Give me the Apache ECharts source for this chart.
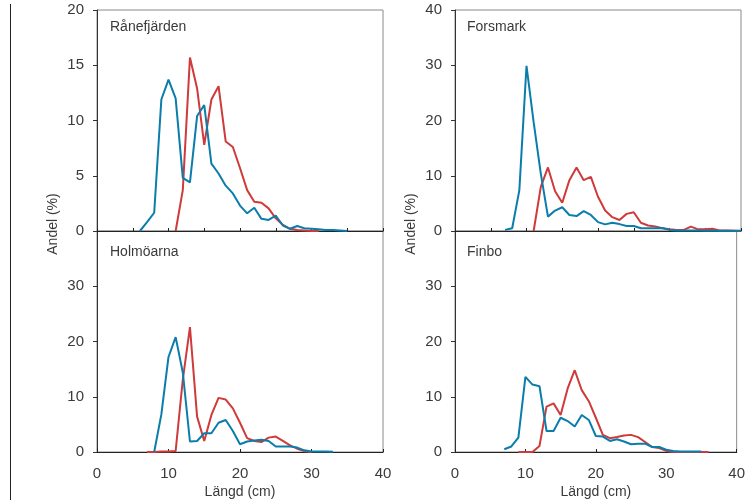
<!DOCTYPE html>
<html>
<head>
<meta charset="utf-8">
<script src="https://cdn.jsdelivr.net/npm/echarts@6/dist/echarts.min.js"></script>
<style>html,body{margin:0;padding:0;background:#fff}#c{width:748px;height:500px}</style>
</head>
<body>
<div id="c"></div>
<script>
// Length classes (cm)
const lengths = [0,1,2,3,4,5,6,7,8,9,10,11,12,13,14,15,16,17,18,19,20,21,22,23,24,25,26,27,28,29,30,31,32,33,34,35,36,37,38,39,40];
const panelNames = ['Rånefjärden', 'Forsmark', 'Holmöarna', 'Finbo'];
const xLabel = 'Längd (cm)';
const yLabel = 'Andel (%)';
const yMax = [20, 40, 40, 40];
const yStep = [5, 10, 10, 10];

// Values per length class, null where no data (index = length in cm)
const raneBlue = [null,null,null,null,null,null,0,0.8,1.65,11.9,13.7,12.0,4.8,4.4,10.4,11.4,6.1,5.2,4.1,3.4,2.3,1.6,2.1,1.1,1.0,1.4,0.5,0.2,0.45,0.25,0.2,0.15,0.1,0.1,0.05,0,null,null,null,null,null];
const raneRed  = [null,null,null,null,null,null,null,null,null,null,null,0,3.7,15.7,12.9,7.8,11.9,13.1,8.1,7.6,5.7,3.7,2.65,2.55,2.05,1.15,0.55,0.2,0.1,0.05,0,0,null,null,null,null,null,null,null,null,null];
const forsBlue = [null,null,null,null,null,null,null,0.2,0.5,7.4,29.9,19.7,10.4,2.6,3.7,4.3,2.9,2.7,3.6,2.9,1.6,1.2,1.5,1.25,0.9,0.9,0.5,0.5,0.5,0.55,0.2,0.1,0.1,0.1,0.1,0.05,0.05,0.05,0.05,0.05,0.05];
const forsRed  = [null,null,null,null,null,null,null,null,null,null,null,0,8.0,11.5,7.2,5.1,9.2,11.5,9.2,9.8,6.2,3.7,2.5,2.0,3.1,3.4,1.5,1.0,0.8,0.5,0.3,0.2,0.2,0.8,0.3,0.3,0.4,0.1,0.1,0.05,0];
const holmBlue = [null,null,null,null,null,null,null,null,0,6.8,17.2,20.8,14.4,1.9,2.0,3.4,3.4,5.3,5.8,3.8,1.4,1.9,2.1,2.2,2.0,1.0,1.0,1.0,0.8,0.3,0.1,0.1,0.1,0.05,null,null,null,null,null,null,null];
const holmRed  = [null,null,null,null,null,null,null,0,0,0.1,0.1,0.2,13.1,22.6,6.4,2.0,6.7,9.8,9.5,7.9,5.3,2.5,2.0,1.8,2.6,2.8,2.0,1.2,0.6,0.15,0,null,null,null,null,null,null,null,null,null,null];
const finbBlue = [null,null,null,null,null,null,null,0.5,1.0,2.6,13.6,12.2,11.9,3.8,3.8,6.2,5.6,4.6,6.7,5.8,2.9,2.8,2.0,2.3,1.9,1.4,1.5,1.5,0.9,0.9,0.4,0.2,0.1,0.1,0.1,0.1,null,null,null,null,null];
const finbRed  = [null,null,null,null,null,null,null,null,null,0,0,0,1.1,8.2,8.8,6.7,11.5,14.8,11.2,9.2,6.2,3.1,2.5,2.7,3.0,3.1,2.7,1.8,0.9,0.7,0.2,0,0,0,0,0,0,null,null,null,null];

const blueSeries = [raneBlue, forsBlue, holmBlue, finbBlue];
const redSeries = [raneRed, forsRed, holmRed, finbRed];

const BLUE = '#0b7dab', RED = '#cf3a3a';
const FONT = 'Liberation Sans';
const grids = [
  {left: 97, top: 10, width: 286, height: 221},
  {left: 455, top: 10, width: 286, height: 221},
  {left: 97, top: 231, width: 286, height: 222},
  {left: 455, top: 231, width: 286, height: 222}
];

function pairs(arr) {
  const out = [];
  arr.forEach((v, i) => { if (v !== null) out.push([lengths[i], v]); });
  return out;
}

const option = {
  animation: false,
  grid: grids.map(g => Object.assign({show: true, borderColor: '#8a8a8a', borderWidth: 1, backgroundColor: 'transparent'}, g)),
  xAxis: grids.map((g, i) => {
    const bottom = i >= 2;
    return {
      type: 'value', gridIndex: i, min: 0, max: 40, interval: bottom ? 10 : 5,
      axisLine: {show: true, onZero: false, lineStyle: {color: '#222', width: 1.2}},
      axisTick: {show: true, inside: true, length: 3, lineStyle: {color: '#222'}},
      axisLabel: {show: bottom, color: '#3a3a3a', fontSize: 15, fontFamily: FONT, margin: 14},
      splitLine: {show: false},
      name: bottom ? xLabel : '', nameLocation: 'middle', nameGap: 33,
      nameTextStyle: {color: '#3a3a3a', fontSize: 14, fontFamily: FONT}
    };
  }),
  yAxis: grids.map((g, i) => ({
    type: 'value', gridIndex: i, min: 0, max: yMax[i], interval: yStep[i],
    axisLine: {show: true, lineStyle: {color: '#333', width: 1}},
    axisTick: {show: true, inside: false, length: 4, lineStyle: {color: '#333'}},
    axisLabel: {color: '#3a3a3a', fontSize: 15, fontFamily: FONT, margin: 13, showMaxLabel: i < 2},
    splitLine: {show: false}
  })),
  series: [].concat(
    redSeries.map((s, i) => ({type: 'line', xAxisIndex: i, yAxisIndex: i, data: pairs(s), symbol: 'none', lineStyle: {color: RED, width: 2}, z: 3})),
    blueSeries.map((s, i) => ({type: 'line', xAxisIndex: i, yAxisIndex: i, data: pairs(s), symbol: 'none', lineStyle: {color: BLUE, width: 2}, z: 4}))
  ),
  graphic: [
    {type: 'line', shape: {x1: 10.5, y1: 4, x2: 10.5, y2: 500}, style: {stroke: '#222', lineWidth: 1}},
    {type: 'text', x: 110, y: 27, style: {text: panelNames[0], fill: '#3a3a3a', font: '14px "Liberation Sans"', textVerticalAlign: 'middle'}},
    {type: 'text', x: 467, y: 27, style: {text: panelNames[1], fill: '#3a3a3a', font: '14px "Liberation Sans"', textVerticalAlign: 'middle'}},
    {type: 'text', x: 110, y: 252, style: {text: panelNames[2], fill: '#3a3a3a', font: '14px "Liberation Sans"', textVerticalAlign: 'middle'}},
    {type: 'text', x: 467, y: 252, style: {text: panelNames[3], fill: '#3a3a3a', font: '14px "Liberation Sans"', textVerticalAlign: 'middle'}},
    {type: 'text', x: 53, y: 224, rotation: Math.PI / 2, style: {text: yLabel, fill: '#3a3a3a', font: '14px "Liberation Sans"', textAlign: 'center', textVerticalAlign: 'middle'}},
    {type: 'text', x: 411, y: 224, rotation: Math.PI / 2, style: {text: yLabel, fill: '#3a3a3a', font: '14px "Liberation Sans"', textAlign: 'center', textVerticalAlign: 'middle'}}
  ]
};

const chart = echarts.init(document.getElementById('c'), null, {renderer: 'canvas'});
chart.setOption(option);
</script>
</body>
</html>
